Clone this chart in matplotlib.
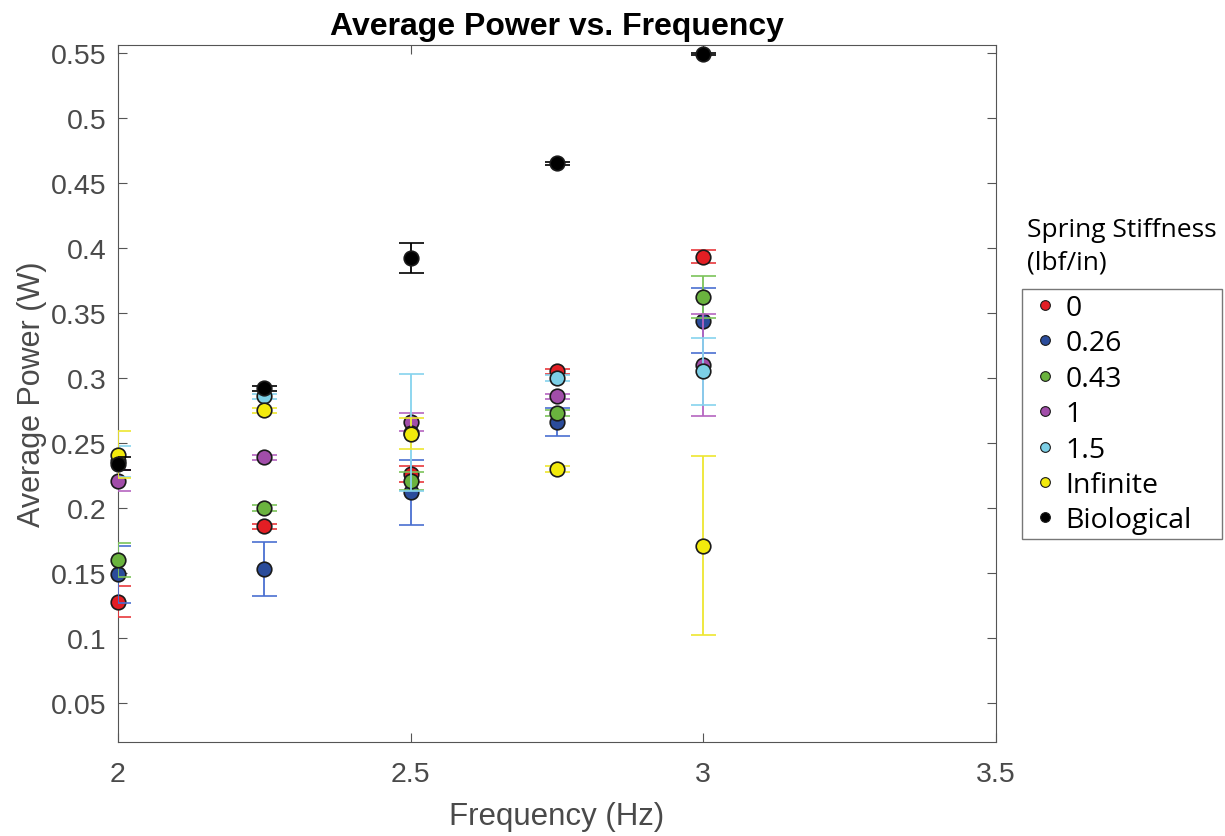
import matplotlib
matplotlib.use("Agg")
import matplotlib.pyplot as plt
from matplotlib.lines import Line2D
from matplotlib.patches import Rectangle

freqs = [2.0, 2.25, 2.5, 2.75, 3.0]
labels = ["0", "0.26", "0.43", "1", "1.5", "Infinite", "Biological"]

power = {
    "0":          [0.128, 0.186, 0.226, 0.305, 0.393],
    "0.26":       [0.149, 0.153, 0.212, 0.266, 0.344],
    "0.43":       [0.160, 0.200, 0.221, 0.273, 0.362],
    "1":          [0.221, 0.239, 0.266, 0.286, 0.310],
    "1.5":        [0.236, 0.286, 0.258, 0.300, 0.305],
    "Infinite":   [0.241, 0.275, 0.257, 0.230, 0.171],
    "Biological": [0.234, 0.292, 0.392, 0.465, 0.549],
}
err = {
    "0":          [0.012, 0.002, 0.006, 0.002, 0.005],
    "0.26":       [0.022, 0.021, 0.025, 0.011, 0.025],
    "0.43":       [0.013, 0.002, 0.007, 0.002, 0.016],
    "1":          [0.008, 0.002, 0.007, 0.002, 0.039],
    "1.5":        [0.012, 0.002, 0.045, 0.002, 0.026],
    "Infinite":   [0.018, 0.002, 0.012, 0.002, 0.069],
    "Biological": [0.005, 0.002, 0.0115, 0.001, 0.001],
}

face_colors = ["#E31E24", "#2B4C9B", "#6AB33E", "#A14DA9", "#7CCFE6", "#F2EA0C", "#000000"]
line_colors = ["#E8383C", "#4A6FD1", "#7CC35A", "#B565C0", "#86D3EE", "#EEE630", "#000000"]

plt.rcParams['font.family'] = ['Liberation Sans', 'DejaVu Sans']

fig = plt.figure(figsize=(12.25, 8.37), dpi=100)
ax = fig.add_axes([0.0963, 0.1123, 0.7167, 0.8327])

for i, lab in enumerate(labels):
    c = ax.errorbar(freqs, power[lab], yerr=err[lab], fmt='o', color=line_colors[i],
                    markerfacecolor=face_colors[i], markeredgecolor='#1a1a1a',
                    markeredgewidth=1.2, markersize=10.5, capsize=9, elinewidth=1.3,
                    capthick=1.3, zorder=3 + i)
    c[0].set_clip_on(False)

ax.set_xlim(2, 3.5)
ax.set_ylim(0.02, 0.556)
ax.set_xticks([2, 2.5, 3, 3.5])
ax.set_xticklabels(["2", "2.5", "3", "3.5"])
yt = [0.05, 0.1, 0.15, 0.2, 0.25, 0.3, 0.35, 0.4, 0.45, 0.5, 0.55]
ax.set_yticks(yt)
ax.set_yticklabels(["0.05", "0.1", "0.15", "0.2", "0.25", "0.3", "0.35", "0.4", "0.45", "0.5", "0.55"])

tick_col = "#4a4a4a"
ax.tick_params(axis='both', direction='in', length=6.5, width=0.8, top=True, right=True,
               labelsize=20.5, colors="#555555", labelcolor=tick_col)
ax.tick_params(axis='y', pad=8)
ax.tick_params(axis='x', pad=14)
for s in ax.spines.values():
    s.set_color("#555555")
    s.set_linewidth(0.8)

ax.set_title("Average Power vs. Frequency", fontsize=23, fontweight='bold', pad=8)
ax.set_xlabel("Frequency (Hz)", fontsize=22.5, color=tick_col, labelpad=10)
ax.set_ylabel("Average Power (W)", fontsize=22, color=tick_col, labelpad=3)

leg_font = ['Open Sans', 'DejaVu Sans']
handles = [Line2D([], [], linestyle='none', marker='o', markersize=7,
                  markerfacecolor=face_colors[i], markeredgecolor='#1a1a1a',
                  markeredgewidth=0.8) for i in range(len(labels))]
leg = fig.legend(handles, labels, loc='upper left', bbox_to_anchor=(1031 / 1225, 1 - 295 / 837),
                 bbox_transform=fig.transFigure, borderaxespad=0, frameon=False,
                 handlelength=1.0, handletextpad=0.2, labelspacing=0.26, borderpad=0,
                 prop={'family': leg_font, 'size': 20.5})

fig.patches.append(Rectangle((1022 / 1225, 1 - 540 / 837), 200 / 1225, 250 / 837,
                             transform=fig.transFigure, fill=False,
                             edgecolor="#777777", linewidth=1.0))

fig.text(0.8383, 0.725, "Spring Stiffness", fontsize=19, family=leg_font,
         ha='left', va='center')
fig.text(0.8383, 0.686, "(lbf/in)", fontsize=19, family=leg_font,
         ha='left', va='center')

fig.savefig("out.png", dpi=100)
